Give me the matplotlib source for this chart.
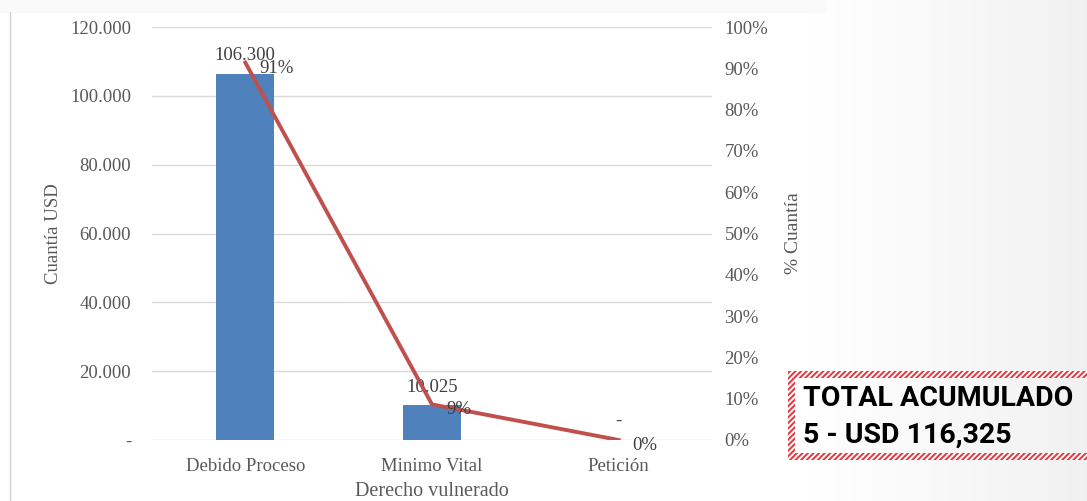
import numpy as np
import matplotlib
matplotlib.use("Agg")
import matplotlib.pyplot as plt
from matplotlib.patches import Rectangle

# data
categories = ["Debido Proceso", "Minimo Vital", "Petición"]
amounts = [106300, 10025, 0]
amount_labels = ["106.300", "10.025", "-"]
left_ticks = [0, 20000, 40000, 60000, 80000, 100000, 120000]
left_tick_labels = ["-", "20.000", "40.000", "60.000", "80.000", "100.000", "120.000"]
right_ticks = [i / 10 for i in range(11)]
total = sum(amounts)
shares = [a / total for a in amounts]

BAR = "#4f81bd"
LINE = "#c0504d"
TXT = "#595959"
HATCH = "#e8343c"
SERIF = ["Liberation Serif", "DejaVu Serif"]
plt.rcParams["hatch.linewidth"] = 1.4

fig = plt.figure(figsize=(10.87, 5.01), dpi=100)

# slide background: white fading to light grey towards the right edge
bg = fig.add_axes([0, 0, 1, 1], zorder=-10)
xs = np.linspace(0, 1, 512)
shade = np.where(xs < 0.75, 1.0, 1 - 0.055 * np.clip((xs - 0.75) / 0.25, 0, 1))
cols = np.repeat(shade[None, :, None], 3, axis=2)
bg.imshow(cols, extent=[0, 1, 0, 1], aspect="auto", vmin=0, vmax=1)
bg.add_patch(Rectangle((0, 1 - 12 / 501), 825 / 1087, 12 / 501, color="#fafafa"))
bg.plot([10 / 1087, 10 / 1087], [0, 1 - 12 / 501], color="#d0d0d0", lw=1)
bg.set_xlim(0, 1)
bg.set_ylim(0, 1)
bg.axis("off")

ax = fig.add_axes([152 / 1087, 1 - 440 / 501, 560 / 1087, 413 / 501])
ax.patch.set_alpha(0)
x = np.arange(len(categories))
ax.bar(x, amounts, width=0.31, color=BAR, zorder=2)
ax.set_xlim(-0.5, 2.5)
ax.set_ylim(0, 120000)
ax.set_yticks(left_ticks)
ax.set_yticklabels(left_tick_labels, family=SERIF, fontsize=13.5, color=TXT)
ax.set_xticks(x)
ax.set_xticklabels(categories, family=SERIF, fontsize=13.5, color=TXT)
ax.tick_params(length=0, pad=15, axis="y")
ax.tick_params(length=0, pad=13, axis="x")
ax.grid(axis="y", color="#d9d9d9", lw=1, zorder=0)
for s in ax.spines.values():
    s.set_visible(False)
ax.set_ylabel("Cuantía USD", family=SERIF, fontsize=13.5, color=TXT, labelpad=6)
ax.set_xlabel("Derecho vulnerado", family=SERIF, fontsize=14.5, color=TXT, labelpad=5)

for xi, a, lab in zip(x, amounts, amount_labels):
    ax.annotate(lab, (xi, a), xytext=(0, 7), textcoords="offset points",
                ha="center", va="bottom", family=SERIF, fontsize=13.5, color="#404040", zorder=5)

ax2 = ax.twinx()
ax2.plot(x, shares, color=LINE, lw=2.8, zorder=3)
ax2.set_ylim(0, 1)
ax2.set_yticks(right_ticks)
ax2.set_yticklabels([f"{int(round(t * 100))}%" for t in right_ticks],
                    family=SERIF, fontsize=13.5, color=TXT)
ax2.tick_params(length=0, pad=9)
for s in ax2.spines.values():
    s.set_visible(False)
ax2.set_ylabel("% Cuantía", family=SERIF, fontsize=14, color=TXT, labelpad=12)

for xi, p in zip(x, shares):
    ax2.annotate(f"{p:.0%}", (xi, p), xytext=(10, -4), textcoords="offset points",
                 ha="left", va="center", family=SERIF, fontsize=13.5, color="#404040")

# total box with red hatched border
box_x, box_y, box_w, box_h = 788 / 1087, 1 - 460 / 501, 299 / 1087, 89 / 501
bx = fig.add_axes([box_x, box_y, box_w, box_h], zorder=5)
bx.set_xlim(0, box_w * 1087)
bx.set_ylim(0, box_h * 501)
bx.axis("off")
W, H, T = box_w * 1087, box_h * 501, 7
for rx, ry, rw, rh in [(0, 0, W, T), (0, H - T, W, T), (0, 0, T, H)]:
    bx.add_patch(Rectangle((rx, ry), rw, rh, facecolor="white", edgecolor=HATCH,
                           hatch="//////", lw=0))
bx.text(15, H * 0.69, "TOTAL ACUMULADO", family="Roboto", fontweight="bold",
        fontsize=20.5, color="black", va="center", ha="left")
bx.text(15, H * 0.28, "5 - USD 116,325", family="Roboto", fontweight="bold",
        fontsize=20.5, color="black", va="center", ha="left")

fig.savefig("out.png", dpi=100)
